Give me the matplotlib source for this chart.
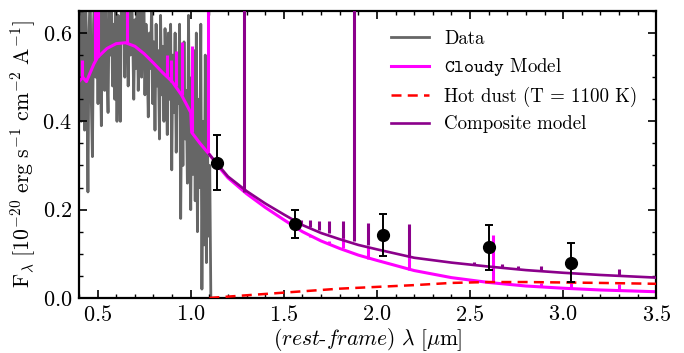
import matplotlib
matplotlib.use("Agg")
import matplotlib.pyplot as plt
import numpy as np
from matplotlib.ticker import MultipleLocator

plt.rcParams['font.family'] = 'serif'
plt.rcParams['font.serif'] = ['cmr10']
plt.rcParams['mathtext.fontset'] = 'cm'
plt.rcParams['axes.unicode_minus'] = False
plt.rcParams['axes.formatter.use_mathtext'] = True

# observed spectrum (0.400 - 1.108 um, step 0.006)
data_flux = [0.50, 0.66, 0.40, 0.70, 0.48, 0.38, 0.68, 0.52, 0.24, 0.60,
             0.70, 0.45, 0.32, 0.62, 0.70, 0.50, 0.66, 0.44, 0.70, 0.55,
             0.39, 0.68, 0.60, 0.47, 0.70, 0.52, 0.42, 0.66, 0.55, 0.70,
             0.48, 0.62, 0.45, 0.70, 0.40, 0.64, 0.52, 0.40, 0.70, 0.58,
             0.68, 0.50, 0.62, 0.70, 0.48, 0.66, 0.55, 0.70, 0.60, 0.45,
             0.63, 0.52, 0.70, 0.47, 0.60, 0.66, 0.50, 0.58, 0.70, 0.46,
             0.62, 0.54, 0.41, 0.60, 0.52, 0.67, 0.44, 0.58, 0.38, 0.62,
             0.48, 0.56, 0.36, 0.64, 0.46, 0.57, 0.40, 0.61, 0.50, 0.37,
             0.60, 0.45, 0.62, 0.29, 0.55, 0.42, 0.60, 0.33, 0.52, 0.44,
             0.62, 0.18, 0.50, 0.30, 0.58, 0.36, 0.47, 0.26, 0.64, 0.35,
             0.20, 0.50, 0.28, 0.56, 0.22, 0.60, 0.15, 0.45, 0.25, 0.62,
             0.02, 0.40, 0.12, 0.55, 0.08, 0.35, 0.14, 0.30, 0.00]
data_wl = np.linspace(0.400, 1.108, len(data_flux))

# Cloudy continuum
cloudy_wl = [0.40, 0.42, 0.44, 0.46, 0.48, 0.50, 0.55, 0.60, 0.65, 0.70,
             0.75, 0.80, 0.85, 0.90, 0.95, 1.00, 1.005, 1.05, 1.10, 1.15,
             1.20, 1.30, 1.40, 1.50, 1.60, 1.70, 1.80, 1.90, 2.00, 2.20,
             2.40, 2.60, 2.80, 3.00, 3.20, 3.50]
cloudy_flux = [0.49, 0.50, 0.49, 0.51, 0.53, 0.545, 0.565, 0.576, 0.578, 0.570,
               0.553, 0.532, 0.51, 0.49, 0.46, 0.42, 0.375, 0.35, 0.325, 0.297,
               0.272, 0.236, 0.205, 0.177, 0.150, 0.129, 0.112, 0.097, 0.085, 0.062,
               0.046, 0.035, 0.027, 0.022, 0.018, 0.014]
# Cloudy emission lines
cloudy_line_wl = [0.416, 0.486, 0.500, 0.656, 0.87, 0.895, 0.92, 0.953, 1.005, 1.094,
                  1.64, 1.74, 1.82, 1.95, 2.17, 2.625, 2.88, 3.04, 3.30]
cloudy_line_base = [0.50, 0.54, 0.545, 0.578, 0.50, 0.49, 0.48, 0.46, 0.375, 0.33,
                    0.138, 0.124, 0.112, 0.088, 0.063, 0.035, 0.025, 0.022, 0.017]
cloudy_line_top = [0.54, 0.70, 0.70, 0.70, 0.55, 0.54, 0.56, 0.58, 0.57, 0.70,
                   0.143, 0.13, 0.145, 0.116, 0.131, 0.143, 0.034, 0.034, 0.032]

# hot dust (T = 1100 K)
dust_wl = [1.10, 1.20, 1.30, 1.40, 1.50, 1.60, 1.70, 1.80, 1.90, 2.00,
           2.20, 2.40, 2.60, 2.80, 3.00, 3.20, 3.50]
dust_flux = [0.000, 0.003, 0.006, 0.009, 0.012, 0.015, 0.018, 0.021, 0.023, 0.025,
             0.029, 0.034, 0.036, 0.036, 0.035, 0.034, 0.032]

# composite continuum (Cloudy + dust)
comp_wl = dust_wl
comp_flux = [0.325, 0.275, 0.242, 0.214, 0.189, 0.165, 0.147, 0.133, 0.120, 0.110,
             0.091, 0.080, 0.071, 0.063, 0.057, 0.052, 0.046]
comp_line_wl = [1.285, 1.59, 1.64, 1.69, 1.74, 1.82, 1.875, 1.95, 2.17, 2.52,
                2.67, 2.76, 2.88, 3.30]
comp_line_base = [0.240, 0.166, 0.160, 0.153, 0.146, 0.136, 0.128, 0.120, 0.093, 0.076,
                  0.069, 0.066, 0.062, 0.051]
comp_line_top = [0.70, 0.177, 0.177, 0.175, 0.174, 0.175, 0.70, 0.170, 0.167, 0.082,
                 0.077, 0.072, 0.072, 0.065]

# photometry
phot_wl = [1.14, 1.56, 2.03, 2.60, 3.04]
phot_flux = [0.306, 0.168, 0.142, 0.115, 0.080]
phot_err = [0.062, 0.032, 0.048, 0.051, 0.045]

fig = plt.figure(figsize=(6.84, 3.53), dpi=100)
ax = fig.add_axes([0.1155, 0.156, 0.844, 0.813])

ax.plot(data_wl, data_flux, color='#666666', lw=2, label='Data', zorder=1)
ax.plot(cloudy_wl, cloudy_flux, color='magenta', lw=2.2, label=r'$\mathtt{Cloudy}$ Model', zorder=2)
ax.vlines(cloudy_line_wl, cloudy_line_base, cloudy_line_top, color='magenta', lw=2.2, zorder=2)
ax.plot(dust_wl, dust_flux, color='red', lw=1.8, ls=(0, (4, 2.5)), label='Hot dust (T = 1100 K)', zorder=4)
ax.plot(comp_wl, comp_flux, color='#8b008b', lw=1.9, label='Composite model', zorder=3)
ax.vlines(comp_line_wl, comp_line_base, comp_line_top, color='#8b008b', lw=2.2, zorder=3)
ax.errorbar(phot_wl, phot_flux, yerr=phot_err, fmt='o', color='black', ms=8.5,
            capsize=3, elinewidth=1.4, capthick=1.4, zorder=5)

ax.set_xlim(0.4, 3.5)
ax.set_ylim(0, 0.65)
ax.xaxis.set_major_locator(MultipleLocator(0.5))
ax.xaxis.set_minor_locator(MultipleLocator(0.1))
ax.yaxis.set_major_locator(MultipleLocator(0.2))
ax.yaxis.set_minor_locator(MultipleLocator(0.05))
ax.tick_params(which='both', direction='in', top=True, right=True, labelsize=16)
ax.tick_params(which='major', length=6, width=1.2, pad=5)
ax.tick_params(which='minor', length=3, width=1)
for s in ax.spines.values():
    s.set_linewidth(1.6)

ax.set_xlabel(r'$(\mathit{rest}$-$\mathit{frame})\ \lambda\ [\mu\mathrm{m}]$', fontsize=15.5, labelpad=1)
ax.set_ylabel(r'$\mathrm{F}_\lambda\ [10^{-20}\ \mathrm{erg\ s^{-1}\ cm^{-2}\ A^{-1}}]$', fontsize=15.7, labelpad=3)
ax.legend(loc='upper right', frameon=False, fontsize=13.6, borderaxespad=0.6, labelspacing=0.45)

fig.savefig('out.png', dpi=100)
